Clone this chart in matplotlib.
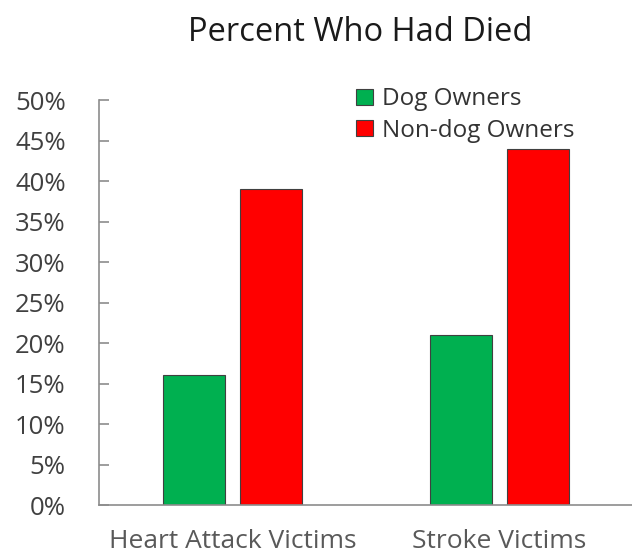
import matplotlib.pyplot as plt
import numpy as np
from matplotlib.ticker import PercentFormatter

categories = ['Heart Attack Victims', 'Stroke Victims']
dog_owners = [16, 21]
non_dog_owners = [39, 44]
series_names = ['Dog Owners', 'Non-dog Owners']

plt.rcParams['font.family'] = ['Open Sans', 'DejaVu Sans']

fig = plt.figure(figsize=(6.32, 5.59), dpi=100)
ax = fig.add_axes([0.1566, 0.0966, 0.845, 0.7245])

x = np.arange(len(categories))
w = 0.232
off = 0.144
ax.bar(x - off, dog_owners, w, color='#00B050', edgecolor='#404040', linewidth=0.8,
       label=series_names[0])
ax.bar(x + off, non_dog_owners, w, color='#FF0000', edgecolor='#404040', linewidth=0.8,
       label=series_names[1])

ax.set_xlim(-0.5, 1.5)
ax.set_ylim(0, 50)
ax.set_yticks(np.arange(0, 51, 5))
ax.yaxis.set_major_formatter(PercentFormatter(decimals=0))
ax.set_xticks(x)
ax.set_xticklabels(categories)

for s in ['top', 'right']:
    ax.spines[s].set_visible(False)
for s in ['left', 'bottom']:
    ax.spines[s].set_color('#8c8c8c')
    ax.spines[s].set_linewidth(1.2)

ax.tick_params(axis='y', direction='in', length=7, width=1.2, color='#8c8c8c',
               labelsize=18.5, labelcolor='#404040', pad=24)
ax.tick_params(axis='x', length=0, labelsize=19, labelcolor='#595959', pad=17)

fig.text(0.57, 0.941, 'Percent Who Had Died', ha='center', va='center',
         fontsize=23.5, color='#1a1a1a')

leg = ax.legend(loc='upper left', bbox_to_anchor=(0.464, 1.055), frameon=False,
                fontsize=17.5, handlelength=0.66, handleheight=0.66, handletextpad=0.37,
                labelspacing=0.3, labelcolor='#333333', borderaxespad=0)

fig.savefig('out.png', dpi=100)
